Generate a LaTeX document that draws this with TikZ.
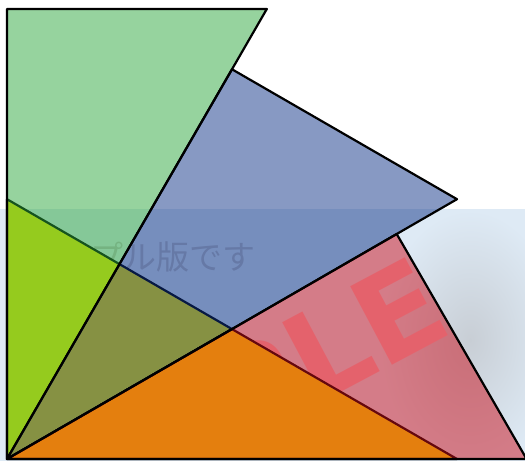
\documentclass[tikz,border=0pt]{standalone}
\usepackage{fontspec}
\newfontfamily\jpfont{Noto Sans CJK JP}
\newfontfamily\stampfont{DejaVu Sans}
\definecolor{base}{RGB}{255,240,0}
\definecolor{leaf}{RGB}{45,167,61}
\definecolor{sea}{RGB}{15,51,135}
\definecolor{rose}{RGB}{203,16,28}
\definecolor{band}{RGB}{222,234,245}
\definecolor{haze}{RGB}{200,206,213}
\definecolor{inkgray}{RGB}{190,192,198}
\definecolor{stampred}{RGB}{255,182,190}

\begin{document}
\begin{tikzpicture}[x=1pt, y=1pt,
      tri/.style={draw=black, line width=2.2pt, line join=round},
      solid tri/.style={tri, fill=base},
      half tri/.style={tri, fill opacity=0.5},
      wmark/.style={inner sep=0pt}
    ]
    \useasboundingbox (-7,-2) rectangle (518,459);
    \fill[band] (-7,-2) rectangle (518,250);
    \begin{scope}
      \clip (-7,1) rectangle (518,250);
      \shade[inner color=haze, outer color=band] (463,119) ellipse (90 and 130);
      \node[wmark, text=inkgray, font=\jpfont\fontsize{33}{33}\selectfont] (note) at (133,202) {サンプル版です};
      \node[wmark, text=stampred, rotate=28, font=\stampfont\bfseries\fontsize{122}{122}\selectfont] (stamp) at (184,37) {SAMPLE};
    \end{scope}
    \coordinate (O) at (0,0);
    \coordinate (a) at (90:450);
    \coordinate (b) at (60:519.6);
    \coordinate (c) at (60:450);
    \coordinate (d) at (30:519.6);
    \coordinate (e) at (30:450);
    \coordinate (f) at (0:519.6);
    \coordinate (p) at (90:259.8);
    \coordinate (q) at (30:259.8);
    \coordinate (r) at (0:450);
    \draw[solid tri] (O) -- (p) -- (q) -- cycle;
    \draw[solid tri] (O) -- (q) -- (r) -- cycle;
    \draw[half tri, fill=leaf] (O) -- (a) -- (b) -- cycle;
    \draw[half tri, fill=sea] (O) -- (c) -- (d) -- cycle;
    \draw[half tri, fill=rose] (O) -- (e) -- (f) -- cycle;
\end{tikzpicture}
\end{document}
